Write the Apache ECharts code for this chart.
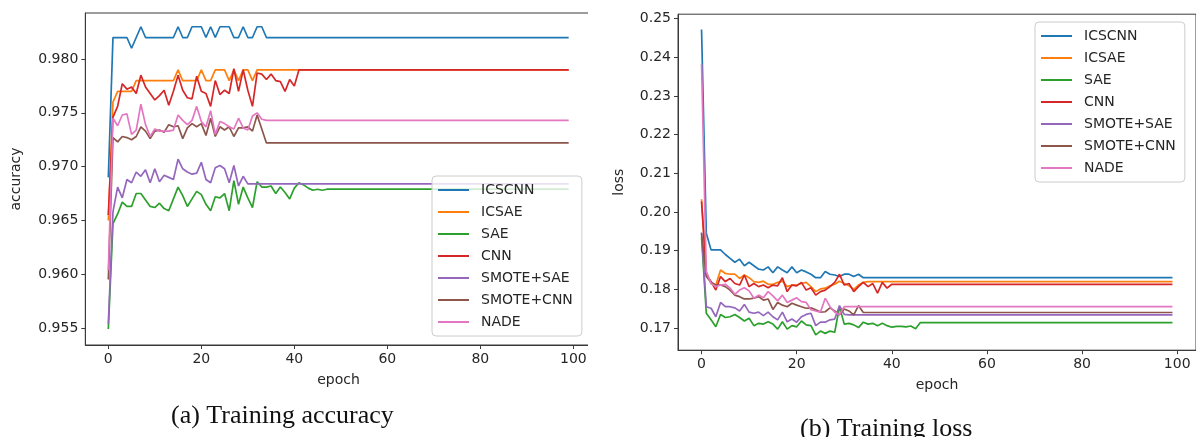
<!DOCTYPE html>
<html>
<head>
<meta charset="utf-8">
<script src="https://cdn.jsdelivr.net/npm/echarts@6/dist/echarts.min.js"></script>
<style>
  html, body { margin: 0; padding: 0; background: #fff; }
  #chart { width: 1196px; height: 437px; }
</style>
</head>
<body>
<div id="chart"></div>
<script>
// ---- series names and tick values ----
const seriesNames = ['ICSCNN', 'ICSAE', 'SAE', 'CNN', 'SMOTE+SAE', 'SMOTE+CNN', 'NADE'];
const epochTicks = [0, 20, 40, 60, 80, 100];
const accTicks = [0.955, 0.960, 0.965, 0.970, 0.975, 0.980];
const lossTicks = [0.17, 0.18, 0.19, 0.20, 0.21, 0.22, 0.23, 0.24, 0.25];

// ---- training accuracy per epoch (0..99) ----
const accICSCNN = [
  0.969, 0.982, 0.982, 0.982, 0.982, 0.981, 0.982, 0.983, 0.982, 0.982,
  0.982, 0.982, 0.982, 0.982, 0.982, 0.983, 0.982, 0.982, 0.983, 0.983,
  0.983, 0.982, 0.983, 0.982, 0.983, 0.983, 0.983, 0.982, 0.982, 0.983,
  0.982, 0.982, 0.983, 0.983, 0.982, 0.982, 0.982, 0.982, 0.982, 0.982,
  0.982, 0.982, 0.982, 0.982, 0.982, 0.982, 0.982, 0.982, 0.982, 0.982,
  0.982, 0.982, 0.982, 0.982, 0.982, 0.982, 0.982, 0.982, 0.982, 0.982,
  0.982, 0.982, 0.982, 0.982, 0.982, 0.982, 0.982, 0.982, 0.982, 0.982,
  0.982, 0.982, 0.982, 0.982, 0.982, 0.982, 0.982, 0.982, 0.982, 0.982,
  0.982, 0.982, 0.982, 0.982, 0.982, 0.982, 0.982, 0.982, 0.982, 0.982,
  0.982, 0.982, 0.982, 0.982, 0.982, 0.982, 0.982, 0.982, 0.982, 0.982
];
const accICSAE = [
  0.965, 0.976, 0.977, 0.977, 0.977, 0.977, 0.978, 0.978, 0.978, 0.978,
  0.978, 0.978, 0.978, 0.978, 0.978, 0.979, 0.978, 0.978, 0.978, 0.978,
  0.979, 0.978, 0.978, 0.979, 0.979, 0.979, 0.978, 0.979, 0.978, 0.979,
  0.979, 0.978, 0.979, 0.979, 0.979, 0.979, 0.979, 0.979, 0.979, 0.979,
  0.979, 0.979, 0.979, 0.979, 0.979, 0.979, 0.979, 0.979, 0.979, 0.979,
  0.979, 0.979, 0.979, 0.979, 0.979, 0.979, 0.979, 0.979, 0.979, 0.979,
  0.979, 0.979, 0.979, 0.979, 0.979, 0.979, 0.979, 0.979, 0.979, 0.979,
  0.979, 0.979, 0.979, 0.979, 0.979, 0.979, 0.979, 0.979, 0.979, 0.979,
  0.979, 0.979, 0.979, 0.979, 0.979, 0.979, 0.979, 0.979, 0.979, 0.979,
  0.979, 0.979, 0.979, 0.979, 0.979, 0.979, 0.979, 0.979, 0.979, 0.979
];
const accSAE = [
  0.9549, 0.9647, 0.9656, 0.9667, 0.9663, 0.9663, 0.9675, 0.9675, 0.9669, 0.9663,
  0.9662, 0.9666, 0.9661, 0.9659, 0.9670, 0.9681, 0.9673, 0.9663, 0.9670, 0.9677,
  0.9674, 0.9665, 0.9659, 0.9672, 0.9671, 0.9675, 0.9659, 0.9687, 0.9665, 0.9681,
  0.9671, 0.9662, 0.9686, 0.9681, 0.9681, 0.9682, 0.9675, 0.9681, 0.9676, 0.9670,
  0.9680, 0.9685, 0.9683, 0.9680, 0.9678, 0.9679, 0.9678, 0.9679, 0.9679, 0.9679,
  0.9679, 0.9679, 0.9679, 0.9679, 0.9679, 0.9679, 0.9679, 0.9679, 0.9679, 0.9679,
  0.9679, 0.9679, 0.9679, 0.9679, 0.9679, 0.9679, 0.9679, 0.9679, 0.9679, 0.9679,
  0.9679, 0.9679, 0.9679, 0.9679, 0.9679, 0.9679, 0.9679, 0.9679, 0.9679, 0.9679,
  0.9679, 0.9679, 0.9679, 0.9679, 0.9679, 0.9679, 0.9679, 0.9679, 0.9679, 0.9679,
  0.9679, 0.9679, 0.9679, 0.9679, 0.9679, 0.9679, 0.9679, 0.9679, 0.9679, 0.9679
];
const accCNN = [
  0.9655, 0.9746, 0.9756, 0.9777, 0.9772, 0.9774, 0.9768, 0.9785, 0.9774, 0.9768,
  0.9762, 0.9766, 0.9771, 0.9757, 0.9770, 0.9785, 0.9771, 0.9764, 0.9763, 0.9784,
  0.9770, 0.9768, 0.9756, 0.9780, 0.9767, 0.9771, 0.9768, 0.9791, 0.9770, 0.9790,
  0.9771, 0.9756, 0.9787, 0.9786, 0.9781, 0.9786, 0.9780, 0.9779, 0.9770, 0.9781,
  0.9775, 0.979, 0.979, 0.979, 0.979, 0.979, 0.979, 0.979, 0.979, 0.979,
  0.979, 0.979, 0.979, 0.979, 0.979, 0.979, 0.979, 0.979, 0.979, 0.979,
  0.979, 0.979, 0.979, 0.979, 0.979, 0.979, 0.979, 0.979, 0.979, 0.979,
  0.979, 0.979, 0.979, 0.979, 0.979, 0.979, 0.979, 0.979, 0.979, 0.979,
  0.979, 0.979, 0.979, 0.979, 0.979, 0.979, 0.979, 0.979, 0.979, 0.979,
  0.979, 0.979, 0.979, 0.979, 0.979, 0.979, 0.979, 0.979, 0.979, 0.979
];
const accSmoteSAE = [
  0.9554, 0.9658, 0.9681, 0.9671, 0.9688, 0.9685, 0.9695, 0.9691, 0.9697, 0.9685,
  0.9698, 0.9686, 0.9692, 0.9690, 0.9688, 0.9707, 0.9698, 0.9695, 0.9693, 0.9694,
  0.9704, 0.9688, 0.9685, 0.9699, 0.9701, 0.9698, 0.9685, 0.9701, 0.9682, 0.9691,
  0.9684, 0.9684, 0.9684, 0.9684, 0.9684, 0.9684, 0.9684, 0.9684, 0.9684, 0.9684,
  0.9684, 0.9684, 0.9684, 0.9684, 0.9684, 0.9684, 0.9684, 0.9684, 0.9684, 0.9684,
  0.9684, 0.9684, 0.9684, 0.9684, 0.9684, 0.9684, 0.9684, 0.9684, 0.9684, 0.9684,
  0.9684, 0.9684, 0.9684, 0.9684, 0.9684, 0.9684, 0.9684, 0.9684, 0.9684, 0.9684,
  0.9684, 0.9684, 0.9684, 0.9684, 0.9684, 0.9684, 0.9684, 0.9684, 0.9684, 0.9684,
  0.9684, 0.9684, 0.9684, 0.9684, 0.9684, 0.9684, 0.9684, 0.9684, 0.9684, 0.9684,
  0.9684, 0.9684, 0.9684, 0.9684, 0.9684, 0.9684, 0.9684, 0.9684, 0.9684, 0.9684
];
const accSmoteCNN = [
  0.9595, 0.9727, 0.9723, 0.9728, 0.9727, 0.9725, 0.9728, 0.9737, 0.9733, 0.9726,
  0.9733, 0.9734, 0.9732, 0.9739, 0.9737, 0.9738, 0.9726, 0.9736, 0.9740, 0.9737,
  0.9740, 0.9729, 0.9745, 0.9728, 0.9737, 0.9734, 0.9737, 0.9728, 0.9736, 0.9736,
  0.9737, 0.9733, 0.9748, 0.9735, 0.9722, 0.9722, 0.9722, 0.9722, 0.9722, 0.9722,
  0.9722, 0.9722, 0.9722, 0.9722, 0.9722, 0.9722, 0.9722, 0.9722, 0.9722, 0.9722,
  0.9722, 0.9722, 0.9722, 0.9722, 0.9722, 0.9722, 0.9722, 0.9722, 0.9722, 0.9722,
  0.9722, 0.9722, 0.9722, 0.9722, 0.9722, 0.9722, 0.9722, 0.9722, 0.9722, 0.9722,
  0.9722, 0.9722, 0.9722, 0.9722, 0.9722, 0.9722, 0.9722, 0.9722, 0.9722, 0.9722,
  0.9722, 0.9722, 0.9722, 0.9722, 0.9722, 0.9722, 0.9722, 0.9722, 0.9722, 0.9722,
  0.9722, 0.9722, 0.9722, 0.9722, 0.9722, 0.9722, 0.9722, 0.9722, 0.9722, 0.9722
];
const accNADE = [
  0.9604, 0.9745, 0.9738, 0.9748, 0.9749, 0.9730, 0.9734, 0.9758, 0.9739, 0.9728,
  0.9735, 0.9733, 0.9733, 0.9733, 0.9734, 0.9748, 0.9743, 0.9739, 0.9743, 0.9756,
  0.9742, 0.9737, 0.9752, 0.9730, 0.9742, 0.9740, 0.9737, 0.9735, 0.9745, 0.9736,
  0.9734, 0.9747, 0.9750, 0.9744, 0.9743, 0.9743, 0.9743, 0.9743, 0.9743, 0.9743,
  0.9743, 0.9743, 0.9743, 0.9743, 0.9743, 0.9743, 0.9743, 0.9743, 0.9743, 0.9743,
  0.9743, 0.9743, 0.9743, 0.9743, 0.9743, 0.9743, 0.9743, 0.9743, 0.9743, 0.9743,
  0.9743, 0.9743, 0.9743, 0.9743, 0.9743, 0.9743, 0.9743, 0.9743, 0.9743, 0.9743,
  0.9743, 0.9743, 0.9743, 0.9743, 0.9743, 0.9743, 0.9743, 0.9743, 0.9743, 0.9743,
  0.9743, 0.9743, 0.9743, 0.9743, 0.9743, 0.9743, 0.9743, 0.9743, 0.9743, 0.9743,
  0.9743, 0.9743, 0.9743, 0.9743, 0.9743, 0.9743, 0.9743, 0.9743, 0.9743, 0.9743
];

// ---- training loss per epoch (0..99) ----
const lossICSCNN = [
  0.2472, 0.1945, 0.1902, 0.1902, 0.1902, 0.1890, 0.1880, 0.1870, 0.1878, 0.1861,
  0.1870, 0.1861, 0.1852, 0.1850, 0.1858, 0.1843, 0.1858, 0.1850, 0.1843, 0.1858,
  0.1843, 0.1850, 0.1845, 0.1839, 0.1830, 0.1830, 0.1846, 0.1839, 0.1837, 0.1833,
  0.1839, 0.1839, 0.1833, 0.1839, 0.1830, 0.1830, 0.1830, 0.1830, 0.1830, 0.1830,
  0.1830, 0.1830, 0.1830, 0.1830, 0.1830, 0.1830, 0.1830, 0.1830, 0.1830, 0.1830,
  0.1830, 0.1830, 0.1830, 0.1830, 0.1830, 0.1830, 0.1830, 0.1830, 0.1830, 0.1830,
  0.1830, 0.1830, 0.1830, 0.1830, 0.1830, 0.1830, 0.1830, 0.1830, 0.1830, 0.1830,
  0.1830, 0.1830, 0.1830, 0.1830, 0.1830, 0.1830, 0.1830, 0.1830, 0.1830, 0.1830,
  0.1830, 0.1830, 0.1830, 0.1830, 0.1830, 0.1830, 0.1830, 0.1830, 0.1830, 0.1830,
  0.1830, 0.1830, 0.1830, 0.1830, 0.1830, 0.1830, 0.1830, 0.1830, 0.1830, 0.1830
];
const lossICSAE = [
  0.2033, 0.1845, 0.1815, 0.1811, 0.1850, 0.1841, 0.1839, 0.1839, 0.1828, 0.1837,
  0.1830, 0.1820, 0.1818, 0.1821, 0.1813, 0.1813, 0.1818, 0.1821, 0.1807, 0.1811,
  0.1811, 0.1815, 0.1818, 0.1807, 0.1794, 0.1801, 0.1803, 0.1809, 0.1813, 0.1821,
  0.1815, 0.1809, 0.1800, 0.1811, 0.1818, 0.1820, 0.1820, 0.1820, 0.1820, 0.1820,
  0.1820, 0.1820, 0.1820, 0.1820, 0.1820, 0.1820, 0.1820, 0.1820, 0.1820, 0.1820,
  0.1820, 0.1820, 0.1820, 0.1820, 0.1820, 0.1820, 0.1820, 0.1820, 0.1820, 0.1820,
  0.1820, 0.1820, 0.1820, 0.1820, 0.1820, 0.1820, 0.1820, 0.1820, 0.1820, 0.1820,
  0.1820, 0.1820, 0.1820, 0.1820, 0.1820, 0.1820, 0.1820, 0.1820, 0.1820, 0.1820,
  0.1820, 0.1820, 0.1820, 0.1820, 0.1820, 0.1820, 0.1820, 0.1820, 0.1820, 0.1820,
  0.1820, 0.1820, 0.1820, 0.1820, 0.1820, 0.1820, 0.1820, 0.1820, 0.1820, 0.1820
];
const lossSAE = [
  0.1935, 0.1738, 0.1721, 0.1703, 0.1735, 0.1727, 0.1729, 0.1735, 0.1727, 0.1718,
  0.1725, 0.1706, 0.1712, 0.1710, 0.1716, 0.1710, 0.1697, 0.1716, 0.1697, 0.1706,
  0.1703, 0.1718, 0.1708, 0.1706, 0.1682, 0.1692, 0.1686, 0.1692, 0.1689, 0.1755,
  0.1710, 0.1712, 0.1708, 0.1701, 0.1715, 0.1710, 0.1712, 0.1706, 0.1712, 0.1706,
  0.1702, 0.1704, 0.1704, 0.1703, 0.1705, 0.1698, 0.1714, 0.1714, 0.1714, 0.1714,
  0.1714, 0.1714, 0.1714, 0.1714, 0.1714, 0.1714, 0.1714, 0.1714, 0.1714, 0.1714,
  0.1714, 0.1714, 0.1714, 0.1714, 0.1714, 0.1714, 0.1714, 0.1714, 0.1714, 0.1714,
  0.1714, 0.1714, 0.1714, 0.1714, 0.1714, 0.1714, 0.1714, 0.1714, 0.1714, 0.1714,
  0.1714, 0.1714, 0.1714, 0.1714, 0.1714, 0.1714, 0.1714, 0.1714, 0.1714, 0.1714,
  0.1714, 0.1714, 0.1714, 0.1714, 0.1714, 0.1714, 0.1714, 0.1714, 0.1714, 0.1714
];
const lossCNN = [
  0.2027, 0.1837, 0.1820, 0.1798, 0.1833, 0.1820, 0.1828, 0.1815, 0.1811, 0.1837,
  0.1807, 0.1815, 0.1807, 0.1811, 0.1804, 0.1811, 0.1809, 0.1830, 0.1794, 0.1811,
  0.1809, 0.1818, 0.1798, 0.1804, 0.1785, 0.1794, 0.1798, 0.1807, 0.1818, 0.1839,
  0.1811, 0.1815, 0.1794, 0.1807, 0.1818, 0.1807, 0.1815, 0.1790, 0.1818, 0.1803,
  0.1813, 0.1813, 0.1813, 0.1813, 0.1813, 0.1813, 0.1813, 0.1813, 0.1813, 0.1813,
  0.1813, 0.1813, 0.1813, 0.1813, 0.1813, 0.1813, 0.1813, 0.1813, 0.1813, 0.1813,
  0.1813, 0.1813, 0.1813, 0.1813, 0.1813, 0.1813, 0.1813, 0.1813, 0.1813, 0.1813,
  0.1813, 0.1813, 0.1813, 0.1813, 0.1813, 0.1813, 0.1813, 0.1813, 0.1813, 0.1813,
  0.1813, 0.1813, 0.1813, 0.1813, 0.1813, 0.1813, 0.1813, 0.1813, 0.1813, 0.1813,
  0.1813, 0.1813, 0.1813, 0.1813, 0.1813, 0.1813, 0.1813, 0.1813, 0.1813, 0.1813
];
const lossSmoteSAE = [
  0.1947, 0.1755, 0.1751, 0.1729, 0.1766, 0.1755, 0.1755, 0.1752, 0.1744, 0.1761,
  0.1741, 0.1738, 0.1741, 0.1732, 0.1741, 0.1729, 0.1721, 0.1741, 0.1716, 0.1723,
  0.1715, 0.1729, 0.1735, 0.1738, 0.1706, 0.1715, 0.1715, 0.1721, 0.1723, 0.1758,
  0.1735, 0.1734, 0.1734, 0.1734, 0.1734, 0.1734, 0.1734, 0.1734, 0.1734, 0.1734,
  0.1734, 0.1734, 0.1734, 0.1734, 0.1734, 0.1734, 0.1734, 0.1734, 0.1734, 0.1734,
  0.1734, 0.1734, 0.1734, 0.1734, 0.1734, 0.1734, 0.1734, 0.1734, 0.1734, 0.1734,
  0.1734, 0.1734, 0.1734, 0.1734, 0.1734, 0.1734, 0.1734, 0.1734, 0.1734, 0.1734,
  0.1734, 0.1734, 0.1734, 0.1734, 0.1734, 0.1734, 0.1734, 0.1734, 0.1734, 0.1734,
  0.1734, 0.1734, 0.1734, 0.1734, 0.1734, 0.1734, 0.1734, 0.1734, 0.1734, 0.1734,
  0.1734, 0.1734, 0.1734, 0.1734, 0.1734, 0.1734, 0.1734, 0.1734, 0.1734, 0.1734
];
const lossSmoteCNN = [
  0.1945, 0.1833, 0.1818, 0.1811, 0.1811, 0.1807, 0.1798, 0.1785, 0.1781, 0.1775,
  0.1775, 0.1777, 0.1781, 0.1772, 0.1775, 0.1748, 0.1766, 0.1759, 0.1755, 0.1764,
  0.1759, 0.1755, 0.1751, 0.1752, 0.1747, 0.1741, 0.1742, 0.1752, 0.1744, 0.1734,
  0.1749, 0.1744, 0.1734, 0.1758, 0.1740, 0.1740, 0.1740, 0.1740, 0.1740, 0.1740,
  0.1740, 0.1740, 0.1740, 0.1740, 0.1740, 0.1740, 0.1740, 0.1740, 0.1740, 0.1740,
  0.1740, 0.1740, 0.1740, 0.1740, 0.1740, 0.1740, 0.1740, 0.1740, 0.1740, 0.1740,
  0.1740, 0.1740, 0.1740, 0.1740, 0.1740, 0.1740, 0.1740, 0.1740, 0.1740, 0.1740,
  0.1740, 0.1740, 0.1740, 0.1740, 0.1740, 0.1740, 0.1740, 0.1740, 0.1740, 0.1740,
  0.1740, 0.1740, 0.1740, 0.1740, 0.1740, 0.1740, 0.1740, 0.1740, 0.1740, 0.1740,
  0.1740, 0.1740, 0.1740, 0.1740, 0.1740, 0.1740, 0.1740, 0.1740, 0.1740, 0.1740
];
const lossNADE = [
  0.2383, 0.1845, 0.1815, 0.1807, 0.1811, 0.1813, 0.1803, 0.1787, 0.1798, 0.1804,
  0.1796, 0.1777, 0.1785, 0.1778, 0.1794, 0.1783, 0.1770, 0.1785, 0.1766, 0.1772,
  0.1778, 0.1768, 0.1766, 0.1747, 0.1744, 0.1741, 0.1777, 0.1755, 0.1741, 0.1735,
  0.1755, 0.1755, 0.1755, 0.1755, 0.1755, 0.1755, 0.1755, 0.1755, 0.1755, 0.1755,
  0.1755, 0.1755, 0.1755, 0.1755, 0.1755, 0.1755, 0.1755, 0.1755, 0.1755, 0.1755,
  0.1755, 0.1755, 0.1755, 0.1755, 0.1755, 0.1755, 0.1755, 0.1755, 0.1755, 0.1755,
  0.1755, 0.1755, 0.1755, 0.1755, 0.1755, 0.1755, 0.1755, 0.1755, 0.1755, 0.1755,
  0.1755, 0.1755, 0.1755, 0.1755, 0.1755, 0.1755, 0.1755, 0.1755, 0.1755, 0.1755,
  0.1755, 0.1755, 0.1755, 0.1755, 0.1755, 0.1755, 0.1755, 0.1755, 0.1755, 0.1755,
  0.1755, 0.1755, 0.1755, 0.1755, 0.1755, 0.1755, 0.1755, 0.1755, 0.1755, 0.1755
];

const accSeries = [accICSCNN, accICSAE, accSAE, accCNN, accSmoteSAE, accSmoteCNN, accNADE];
const lossSeries = [lossICSCNN, lossICSAE, lossSAE, lossCNN, lossSmoteSAE, lossSmoteCNN, lossNADE];

// ---- styling ----
const palette = ['#1f77b4', '#ff7f0e', '#2ca02c', '#d62728', '#9467bd', '#8c564b', '#e377c2'];
const SANS = '"DejaVu Sans", sans-serif';
const SERIF = '"Liberation Serif", "Times New Roman", serif';
const INK = '#262626';
const SPINE = '#3a3a3a';

function toPairs(values) {
  return values.map((v, i) => [i, v]);
}

function xAxisFor(gridIndex) {
  return {
    type: 'value', gridIndex,
    min: -4.95, max: 103.95,
    name: 'epoch', nameLocation: 'middle', nameGap: 28,
    nameTextStyle: { fontFamily: SANS, fontSize: 14, color: INK },
    axisLine: { show: true, onZero: false, lineStyle: { color: SPINE, width: 1 } },
    axisTick: { show: true, length: 4, lineStyle: { color: SPINE }, customValues: epochTicks },
    axisLabel: { fontFamily: SANS, fontSize: 14, color: INK, margin: 7, customValues: epochTicks },
    splitLine: { show: false }
  };
}

function yAxisFor(gridIndex, min, max, ticks, digits, name, gap) {
  return {
    type: 'value', gridIndex, min, max,
    name, nameLocation: 'middle', nameGap: gap, nameRotate: 90,
    nameTextStyle: { fontFamily: SANS, fontSize: 14, color: INK },
    axisLine: { show: true, onZero: false, lineStyle: { color: SPINE, width: 1 } },
    axisTick: { show: true, length: 4, lineStyle: { color: SPINE }, customValues: ticks },
    axisLabel: {
      fontFamily: SANS, fontSize: 14, color: INK, margin: 7, customValues: ticks,
      formatter: v => v.toFixed(digits)
    },
    splitLine: { show: false }
  };
}

// translucent legend box drawn above the curves
function legendAt(left, top) {
  return {
    orient: 'vertical', left, top, z: 30,
    data: seriesNames,
    icon: 'rect', itemWidth: 31, itemHeight: 2, itemGap: 6,
    textStyle: { fontFamily: SANS, fontSize: 14, color: INK, lineHeight: 16, padding: [0, 0, 0, 7] },
    backgroundColor: 'rgba(255,255,255,0.8)',
    borderColor: '#cccccc', borderWidth: 1, borderRadius: 4,
    padding: [6, 9, 6, 6],
    selectedMode: false
  };
}

const series = [];
accSeries.forEach((vals, i) => {
  series.push({
    name: seriesNames[i], type: 'line', xAxisIndex: 0, yAxisIndex: 0,
    data: toPairs(vals), showSymbol: false, symbol: 'none',
    lineStyle: { color: palette[i], width: 1.7 }, itemStyle: { color: palette[i] },
    z: 2 + i
  });
});
lossSeries.forEach((vals, i) => {
  series.push({
    name: seriesNames[i], type: 'line', xAxisIndex: 1, yAxisIndex: 1,
    data: toPairs(vals), showSymbol: false, symbol: 'none',
    lineStyle: { color: palette[i], width: 1.7 }, itemStyle: { color: palette[i] },
    z: 2 + i
  });
});

const chart = echarts.init(document.getElementById('chart'), null, { renderer: 'canvas' });
chart.setOption({
  animation: false,
  backgroundColor: '#ffffff',
  grid: [
    { left: 85.3, top: 13, width: 506.4, height: 332, show: true, borderColor: SPINE, borderWidth: 1, backgroundColor: 'transparent' },
    { left: 678, top: 14.2, width: 522.7, height: 336, show: true, borderColor: SPINE, borderWidth: 1, backgroundColor: 'transparent' }
  ],
  xAxis: [xAxisFor(0), xAxisFor(1)],
  yAxis: [
    yAxisFor(0, 0.95342, 0.98428, accTicks, 3, 'accuracy', 62),
    yAxisFor(1, 0.16425, 0.25115, lossTicks, 2, 'loss', 52)
  ],
  legend: [legendAt(432, 176), legendAt(1035, 22)],
  series,
  graphic: [
    // white gutter between the two panels
    { type: 'rect', z: 100, shape: { x: 588, y: 0, width: 14, height: 372 }, style: { fill: '#ffffff' } },
    {
      type: 'text', z: 101, left: 286 - 115, top: 403,
      style: { text: '(a) Training accuracy', font: '26px ' + SERIF, fill: '#111' }
    },
    {
      type: 'text', z: 101, left: 888 - 88, top: 416,
      style: { text: '(b) Training loss', font: '26px ' + SERIF, fill: '#111' }
    }
  ]
});
</script>
</body>
</html>
